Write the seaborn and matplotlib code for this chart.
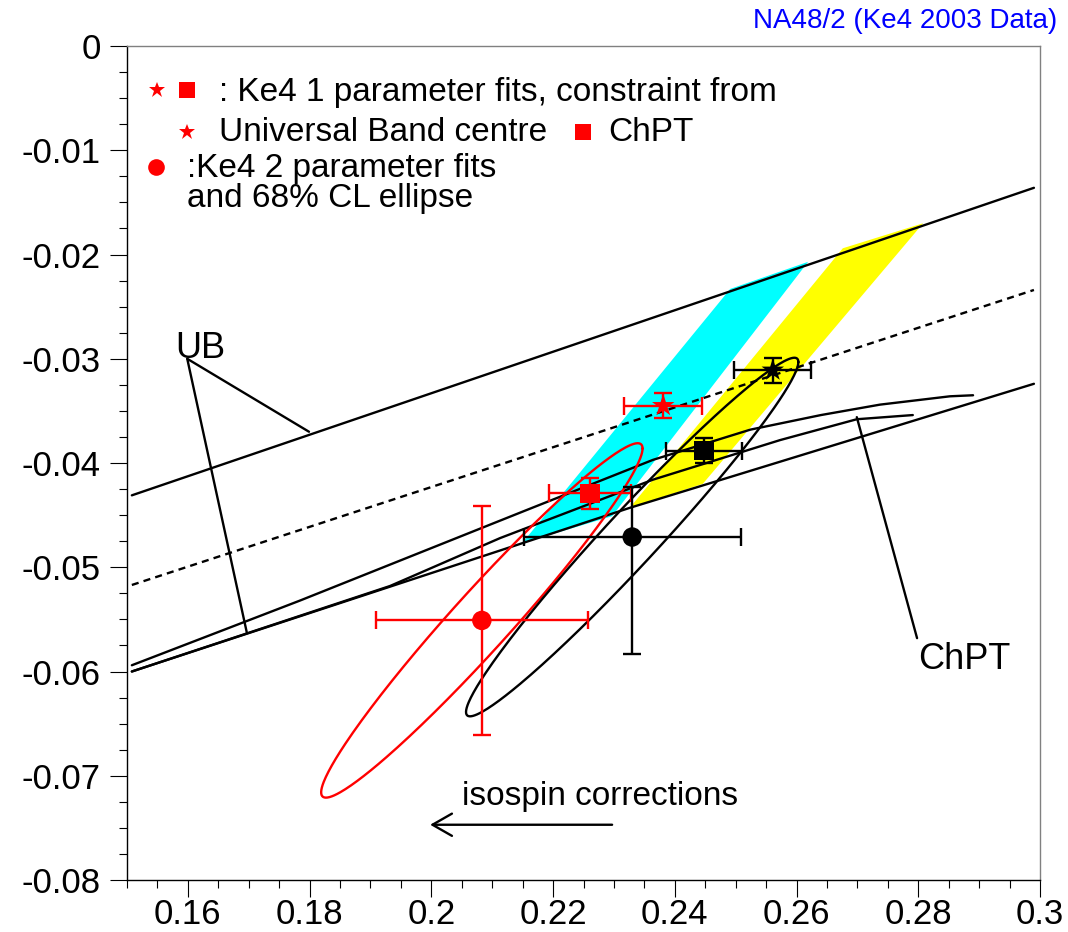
import numpy as np
import matplotlib
matplotlib.use("Agg")
import matplotlib.pyplot as plt
from matplotlib.patches import Polygon, FancyArrowPatch
from matplotlib.ticker import MultipleLocator, FuncFormatter
import seaborn as sns

sns.set_style("ticks")
plt.rcParams['font.family'] = ['Liberation Sans', 'DejaVu Sans']
plt.rcParams['axes.unicode_minus'] = False
plt.rcParams['text.color'] = 'black'
plt.rcParams['xtick.color'] = 'black'
plt.rcParams['ytick.color'] = 'black'
plt.rcParams['xtick.labelcolor'] = 'black'
plt.rcParams['ytick.labelcolor'] = 'black'

# Universal band: upper / lower border and centre line (a0, a2)
ub_x = [0.1508, 0.2990]
ub_upper = [-0.0431, -0.0136]
ub_centre = [-0.0517, -0.0234]
ub_lower_x = [0.1508, 0.2149, 0.2326, 0.2990]
ub_lower = [-0.0600, -0.0477, -0.0443, -0.0324]

# ChPT curves
chpt1_x = [0.1508, 0.1784, 0.2157, 0.2364, 0.2524, 0.2640, 0.2737, 0.2852, 0.2890]
chpt1_y = [-0.0594, -0.0532, -0.0445, -0.0397, -0.0368, -0.0354, -0.0344, -0.0336, -0.0335]
chpt2_x = [0.1508, 0.1932, 0.2113, 0.2364, 0.2573, 0.2699, 0.2791]
chpt2_y = [-0.0600, -0.0518, -0.0472, -0.0416, -0.0378, -0.0358, -0.0354]

# 1 parameter fit bands (isospin corrected = cyan, uncorrected = yellow)
cyan_x = [0.2149, 0.2491, 0.2619, 0.2297]
cyan_y = [-0.0477, -0.0233, -0.0207, -0.0451]
yellow_x = [0.2326, 0.2676, 0.2808, 0.2446]
yellow_y = [-0.0443, -0.0194, -0.0170, -0.0420]

# fit results: corrected (red) and uncorrected (black)
star_x = [0.2381, 0.2561]
star_y = [-0.0345, -0.0311]
star_xerr = [0.0064, 0.0063]
star_yerr = [0.0012, 0.0012]
square_x = [0.2261, 0.2448]
square_y = [-0.0429, -0.0388]
square_xerr = [0.0067, 0.0063]
square_yerr = [0.0015, 0.0012]
circle_x = [0.2083, 0.2330]
circle_y = [-0.0551, -0.0471]
circle_xerr = [0.0174, 0.0178]
circle_yerr_lo = [0.0110, 0.0112]
circle_yerr_hi = [0.0110, 0.0048]
point_colors = ['red', 'black']

# 68% CL ellipses: sigma_x, sigma_y, correlation
ell_sx = [0.0264, 0.0273]
ell_sy = [0.0170, 0.0172]
ell_rho = [0.970, 0.976]

fig = plt.figure(figsize=(10.68, 9.32), dpi=100)
ax = fig.add_axes([0.1189, 0.0558, 0.8549, 0.8948])

ax.add_patch(Polygon(list(zip(cyan_x, cyan_y)), closed=True, fc='#00ffff', ec='none', zorder=1))
ax.add_patch(Polygon(list(zip(yellow_x, yellow_y)), closed=True, fc='#ffff00', ec='none', zorder=1))

lw = 1.7
sns.lineplot(x=ub_x, y=ub_upper, ax=ax, color='black', lw=lw, sort=False, estimator=None, zorder=2)
sns.lineplot(x=ub_x, y=ub_centre, ax=ax, color='black', lw=lw, sort=False, estimator=None,
             linestyle=(0, (3.0, 2.2)), zorder=2)
sns.lineplot(x=ub_lower_x, y=ub_lower, ax=ax, color='black', lw=lw, sort=False, estimator=None, zorder=2)
sns.lineplot(x=chpt1_x, y=chpt1_y, ax=ax, color='black', lw=lw, sort=False, estimator=None, zorder=2)
sns.lineplot(x=chpt2_x, y=chpt2_y, ax=ax, color='black', lw=lw, sort=False, estimator=None, zorder=2)

# label pointers
ax.plot([0.1599, 0.1799], [-0.0300, -0.0370], color='black', lw=lw)
ax.plot([0.1599, 0.1697], [-0.0300, -0.0563], color='black', lw=lw)
ax.plot([0.2699, 0.2798], [-0.0356, -0.0568], color='black', lw=lw)

# ellipses
t = np.linspace(0, 2 * np.pi, 300)
for i, c in enumerate(point_colors):
    ex = circle_x[i] + ell_sx[i] * np.cos(t)
    ey = circle_y[i] + ell_sy[i] * (ell_rho[i] * np.cos(t) + np.sqrt(1 - ell_rho[i] ** 2) * np.sin(t))
    sns.lineplot(x=ex, y=ey, ax=ax, color=c, lw=lw, sort=False, estimator=None, zorder=3)

# error bars and markers
for i, c in enumerate(point_colors):
    ax.errorbar(star_x[i], star_y[i], xerr=star_xerr[i], yerr=star_yerr[i], fmt='none',
                ecolor=c, elinewidth=lw, capsize=6.8, capthick=lw, zorder=4)
    ax.errorbar(square_x[i], square_y[i], xerr=square_xerr[i], yerr=square_yerr[i], fmt='none',
                ecolor=c, elinewidth=lw, capsize=6.8, capthick=lw, zorder=4)
    ax.errorbar(circle_x[i], circle_y[i], xerr=circle_xerr[i],
                yerr=[[circle_yerr_lo[i]], [circle_yerr_hi[i]]], fmt='none',
                ecolor=c, elinewidth=lw, capsize=6.8, capthick=lw, zorder=4)

pal = {'red': 'red', 'black': 'black'}
sns.scatterplot(x=star_x, y=star_y, ax=ax, marker='*', s=17 ** 2, hue=point_colors,
                palette=pal, linewidth=0, legend=False, zorder=5)
sns.scatterplot(x=square_x, y=square_y, ax=ax, marker='s', s=14 ** 2, hue=point_colors,
                palette=pal, linewidth=0, legend=False, zorder=5)
sns.scatterplot(x=circle_x, y=circle_y, ax=ax, marker='o', s=14 ** 2, hue=point_colors,
                palette=pal, linewidth=0, legend=False, zorder=5)

# legend-like annotations
fs = 24
ax.plot([0.1549], [-0.0042], marker='*', color='red', ms=12, mew=0, ls='none')
ax.plot([0.1599], [-0.0042], marker='s', color='red', ms=11.5, mew=0, ls='none')
ax.text(0.1651, -0.00528, ': Ke4 1 parameter fits, constraint from', fontsize=fs, va='baseline')
ax.plot([0.1599], [-0.0082], marker='*', color='red', ms=12, mew=0, ls='none')
ax.text(0.1651, -0.00908, 'Universal Band centre', fontsize=fs, va='baseline')
ax.plot([0.2249], [-0.0082], marker='s', color='red', ms=11.5, mew=0, ls='none')
ax.text(0.2290, -0.00908, 'ChPT', fontsize=fs, va='baseline')
ax.plot([0.1548], [-0.0116], marker='o', color='red', ms=12, mew=0, ls='none')
ax.text(0.1599, -0.0126, ':Ke4 2 parameter fits', fontsize=fs, va='baseline')
ax.text(0.1599, -0.01544, 'and 68% CL ellipse', fontsize=fs, va='baseline')

ax.text(0.1580, -0.0299, 'UB', fontsize=26, va='baseline')
ax.text(0.2800, -0.0598, 'ChPT', fontsize=26, va='baseline')
ax.text(0.2050, -0.0728, 'isospin corrections', fontsize=24, va='baseline')
ax.add_patch(FancyArrowPatch((0.2297, -0.0747), (0.1998, -0.0747),
                             arrowstyle='->,head_length=0.7,head_width=0.4',
                             mutation_scale=20, color='black', lw=lw, shrinkA=0, shrinkB=0))

fig.text(0.9897, 0.970, 'NA48/2 (Ke4 2003 Data)', color='blue', fontsize=20,
         ha='right', va='baseline')

# axes
ax.set_xlim(0.15, 0.3)
ax.set_ylim(-0.08, 0)
ax.xaxis.set_major_locator(MultipleLocator(0.02))
ax.xaxis.set_minor_locator(MultipleLocator(0.005))
ax.yaxis.set_major_locator(MultipleLocator(0.01))
ax.yaxis.set_minor_locator(MultipleLocator(0.0025))
fmt = FuncFormatter(lambda v, p: '%g' % round(v, 4))
ax.xaxis.set_major_formatter(fmt)
ax.yaxis.set_major_formatter(fmt)
ax.tick_params(which='major', direction='out', length=12, width=0.8, labelsize=25,
               color='black', labelcolor='black')
ax.tick_params(which='minor', direction='out', length=6, width=0.8, color='black')
ax.tick_params(axis='x', which='major', pad=1)
ax.tick_params(axis='y', which='major', pad=7)
ax.tick_params(top=False, right=False, which='both')
for s in ['left', 'bottom']:
    ax.spines[s].set_color('black')
    ax.spines[s].set_linewidth(1.0)
for s in ['top', 'right']:
    ax.spines[s].set_color('#808080')
    ax.spines[s].set_linewidth(1.0)
ax.set_xlabel('')
ax.set_ylabel('')

plt.savefig('out.png', dpi=100)
